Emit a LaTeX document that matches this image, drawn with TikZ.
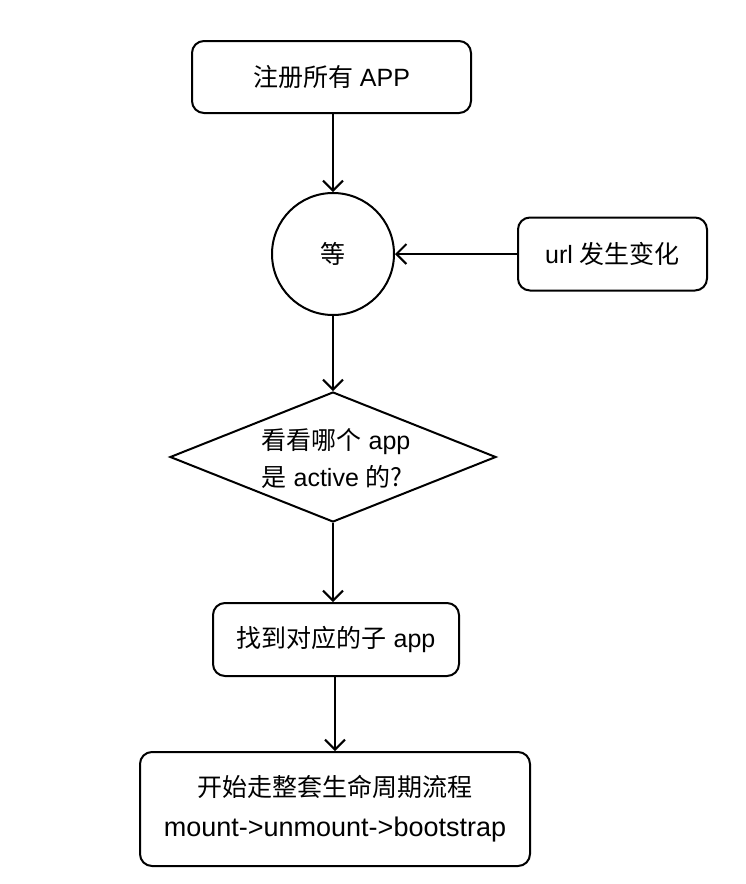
\documentclass[tikz,border=0pt]{standalone}
\usepackage{fontspec}
\setmainfont{Liberation Sans}
\newfontfamily\cjk{Noto Sans CJK SC}
\usetikzlibrary{shapes.geometric,arrows.meta}
\tikzset{
  box/.style={draw, line width=2pt, rounded corners=12pt, inner sep=0pt, align=center, font=\fontsize{25}{40}\selectfont},
  flow/.style={line width=2pt, -{Straight Barb[length=10pt,width=20pt,line width=2pt]}},
  txt/.style={inner sep=0pt, font=\fontsize{25}{37}\selectfont}
}
\begin{document}
\begin{tikzpicture}[x=1pt,y=-1pt]
\useasboundingbox (0,0) rectangle (746,884);
\node[box, minimum width=279pt, minimum height=72pt] (reg) at (331.5,77) {{\cjk 注册所有} APP};
\node[draw, circle, line width=2pt, minimum size=122pt, inner sep=0pt, font=\fontsize{25}{30}\selectfont] (wait) at (333,254) {\cjk 等};
\node[box, minimum width=189pt, minimum height=73pt] (url) at (612.5,254) {url {\cjk 发生变化}};
\node[draw, diamond, line width=2pt, minimum width=326pt, minimum height=130pt, inner sep=0pt] (chk) at (333,457) {};
\node[txt, align=left] (chkt) at (336,458) {{\cjk 看看哪个} app\\{\cjk 是} active {\cjk 的?}};
\node[box, minimum width=246pt, minimum height=73pt] (find) at (336,639.5) {{\cjk 找到对应的子} app};
\node[box, minimum width=390pt, minimum height=114pt] (life) at (335,809) {{\cjk 开始走整套生命周期流程}\\{\fontsize{27}{40}\selectfont mount->unmount->bootstrap}};
\draw[flow] (reg.south -| wait.north) -- (wait.north);
\draw[flow] (url.west) -- (wait.east);
\draw[flow] (wait.south) -- (chk.north);
\draw[flow] (chk.south) -- (chk.south |- find.north);
\draw[flow] (find.south -| life.north) -- (life.north);
\end{tikzpicture}
\end{document}
